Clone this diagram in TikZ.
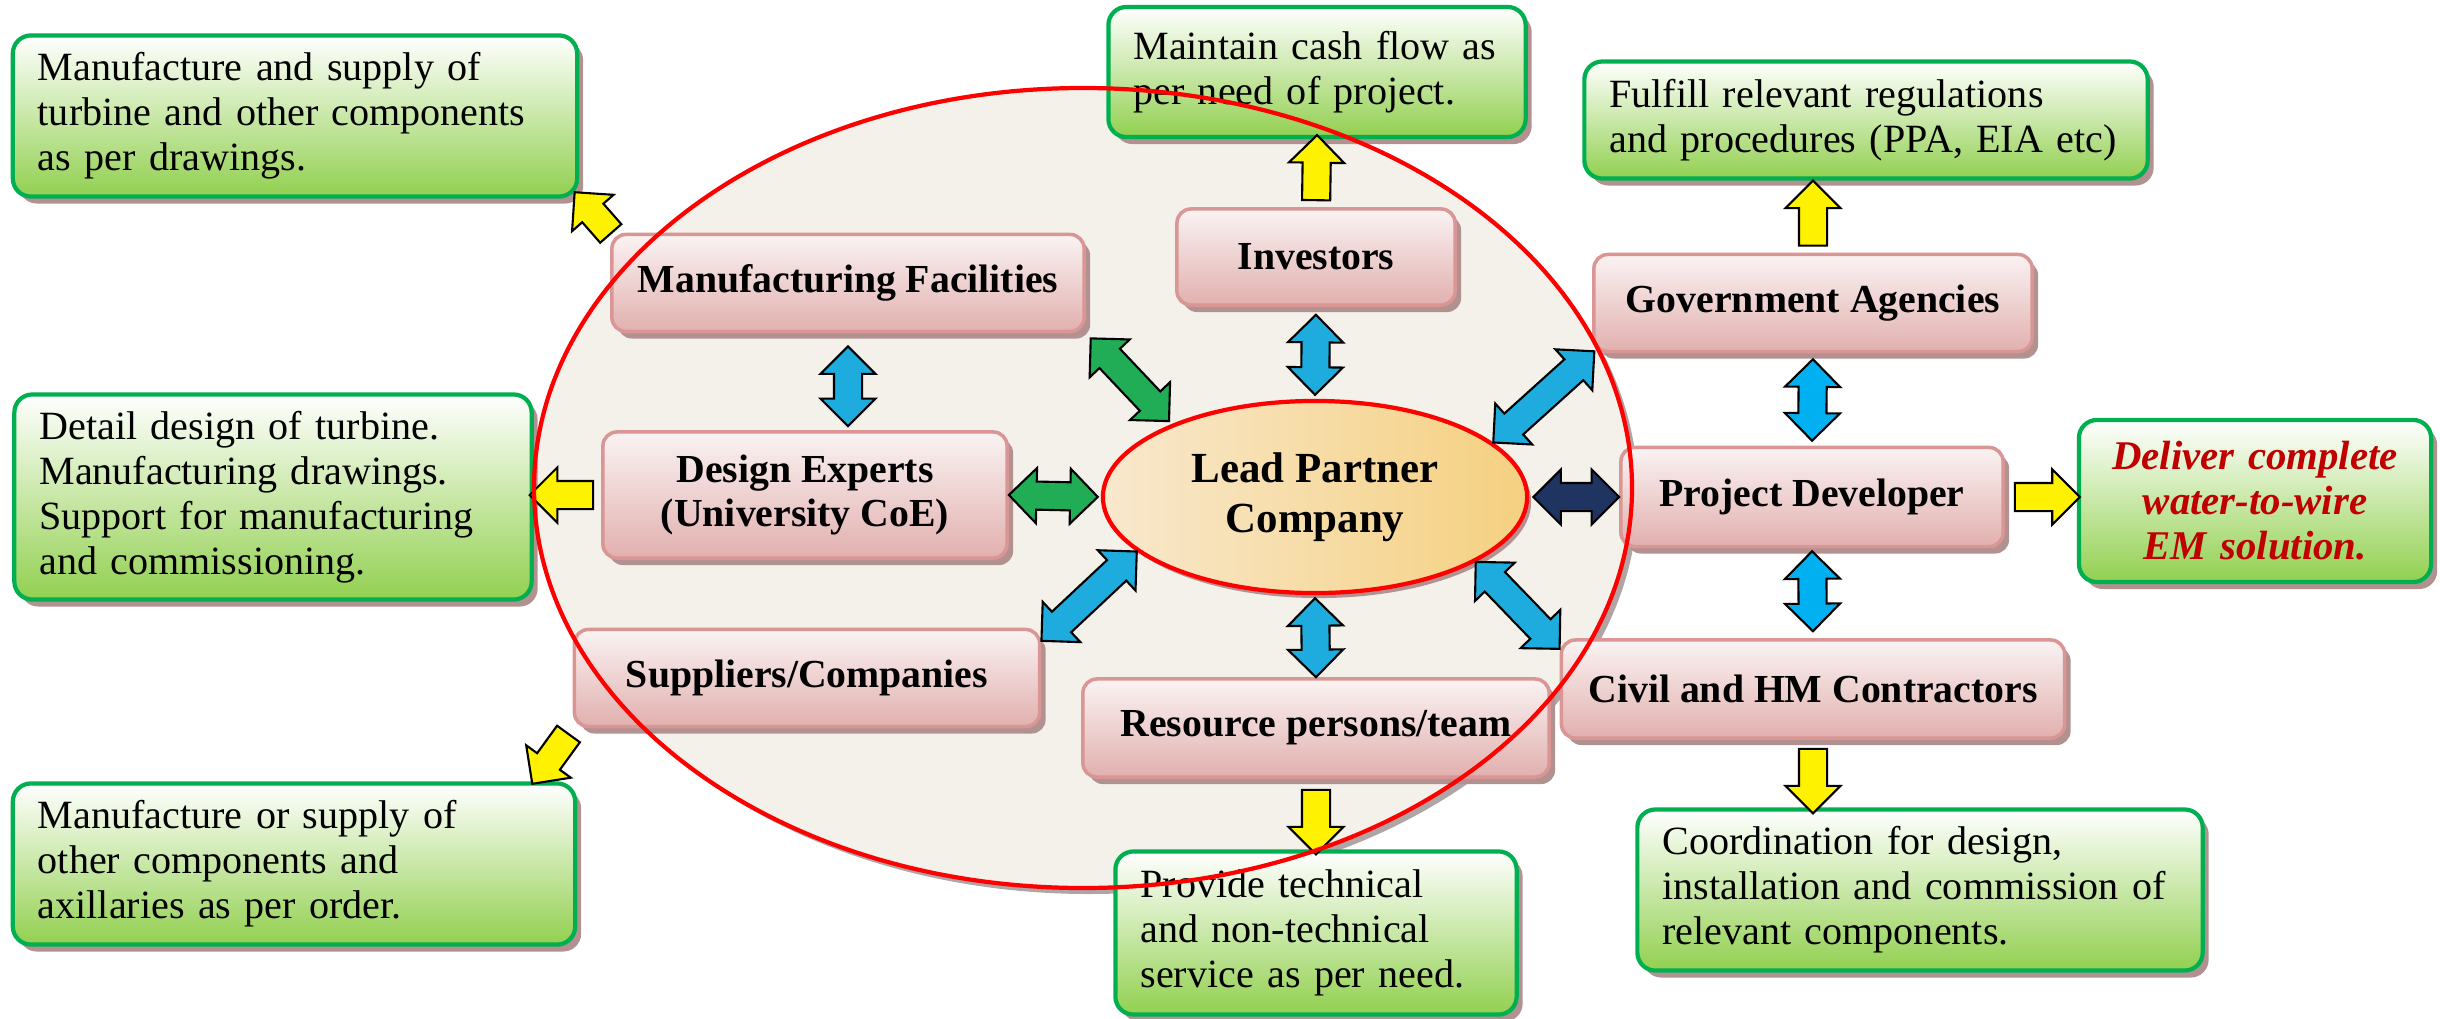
\documentclass[tikz,border=0pt]{standalone}
\usepackage{fontspec}
\setmainfont{Liberation Serif}
\usepackage{xcolor}
\usepackage{tikz}
\usetikzlibrary{positioning}
\usetikzlibrary{calc}
\usetikzlibrary{shapes.arrows}
\usetikzlibrary{shapes.geometric}
\usetikzlibrary{shadows}

\definecolor{pinkline}{RGB}{217,150,148}
\definecolor{pinktop}{RGB}{250,243,243}
\definecolor{pinkbot}{RGB}{225,176,174}
\definecolor{greenline}{RGB}{0,176,80}
\definecolor{greenbot}{RGB}{146,208,80}
\definecolor{shadowc}{RGB}{178,145,145}
\definecolor{ovalfill}{RGB}{244,240,234}
\definecolor{ovalshadow}{RGB}{175,165,165}
\definecolor{leadleft}{RGB}{248,232,205}
\definecolor{leadright}{RGB}{245,208,128}
\definecolor{arrblue}{RGB}{30,172,222}
\definecolor{arrcyan}{RGB}{0,176,240}
\definecolor{arrgreen}{RGB}{32,173,86}
\definecolor{arrnavy}{RGB}{31,52,97}
\definecolor{deliverred}{RGB}{192,0,0}

\tikzset{
  boxshadow/.style={drop shadow={shadow xshift=0.06cm, shadow yshift=-0.07cm, fill=shadowc, opacity=1}},
  actor/.style={draw=pinkline, line width=1pt, rounded corners=0.14cm,
    top color=pinktop, bottom color=pinkbot, boxshadow, inner sep=0pt,
    align=center, font=\fontsize{11.3}{12.4}\selectfont\bfseries},
  task/.style={draw=greenline, line width=1.2pt, rounded corners=0.18cm,
    top color=white, bottom color=greenbot, boxshadow, inner xsep=0.25cm,
    inner ysep=0pt, align=left, font=\fontsize{11.4}{12.8}\selectfont},
  leadpartner/.style={ellipse, draw=red, line width=1.2pt, left color=leadleft,
    right color=leadright, inner sep=0pt, align=center,
    font=\fontsize{12.2}{14.2}\selectfont\bfseries,
    drop shadow={shadow xshift=0.04cm, shadow yshift=-0.05cm, fill=shadowc, opacity=1}},
  twoway/.style={double arrow, draw=black, line width=0.6pt, inner xsep=0pt,
    inner ysep=0.13cm, minimum width=0pt, double arrow head extend=0.135cm},
  oneway/.style={single arrow, draw=black, fill=yellow, line width=0.6pt,
    inner xsep=0pt, inner ysep=0.13cm, minimum width=0pt,
    single arrow head extend=0.135cm, allow upside down},
}

\begin{document}
\begin{tikzpicture}[x=0.01cm, y=-0.01cm]
  \useasboundingbox (0,0) rectangle (2440,1018);

  % Consortium
  \fill[ovalshadow] (1089,494) ellipse [x radius=549, y radius=400];
  \fill[ovalfill] (1083,488) ellipse [x radius=549, y radius=400];

  % Partners
  \node[actor, minimum width=4.72cm, minimum height=0.97cm] (mfg) at (848,283) {Manufacturing Facilities};
  \node[actor, minimum width=2.78cm, minimum height=0.96cm] (invest) at (1316,257) {Investors};
  \node[actor, minimum width=4.38cm, minimum height=0.97cm] (gov) at (1813,303) {Government Agencies};
  \node[actor, minimum width=4.04cm, minimum height=1.26cm] (design) at (805,495) {Design Experts\\(University CoE)};
  \node[actor, minimum width=3.82cm, minimum height=0.99cm] (dev) at (1812,497) {Project Developer};
  \node[actor, minimum width=4.65cm, minimum height=0.97cm] (supply) at (807,678) {Suppliers/Companies};
  \node[actor, minimum width=4.66cm, minimum height=0.98cm] (team) at (1316,728) {Resource persons/team};
  \node[actor, minimum width=5.03cm, minimum height=0.98cm] (civil) at (1813,689) {Civil and HM Contractors};

  % Tasks
  \node[task, text width=5.14cm, minimum height=1.61cm] (out1) at (295,116)
    {Manufacture and supply of\\turbine and other components\\as per drawings.};
  \node[task, text width=3.67cm, minimum height=1.30cm] (out2) at (1317,72)
    {Maintain cash flow as\\per need of project.};
  \node[task, text width=5.13cm, minimum height=1.17cm] (out3) at (1866,120)
    {Fulfill relevant regulations\\and procedures (PPA, EIA etc)};
  \node[task, text width=4.67cm, minimum height=2.05cm] (out4) at (273,497)
    {Detail design of turbine.\\Manufacturing drawings.\\Support for manufacturing\\and commissioning.};
  \node[task, align=center, text width=3.02cm, minimum height=1.62cm, text=deliverred,
    font=\fontsize{11.6}{12.8}\selectfont\bfseries\itshape] (out5) at (2255,501)
    {Deliver complete\\water-to-wire\\EM solution.};
  \node[task, text width=5.12cm, minimum height=1.61cm] (out6) at (294,864)
    {Manufacture or supply of\\other components and\\axillaries as per order.};
  \node[task, text width=3.51cm, minimum height=1.63cm] (out7) at (1316,933)
    {Provide technical\\and non-technical\\service as per need.};
  \node[task, text width=5.15cm, minimum height=1.61cm] (out8) at (1920,890)
    {Coordination for design,\\installation and commission of\\relevant components.};

  % Lead partner
  \node[leadpartner, minimum width=4.24cm, minimum height=1.92cm] (lead) at (1315,497) {Lead Partner\\Company};

  % Two-way links
  \foreach \s/\e/\c/\ga/\gb in {
      mfg.south/design.north -| mfg.south/arrblue/.13cm/.04cm,
      invest.south/lead.north/arrblue/.08cm/.04cm,
      lead.south/team.north/arrblue/.03cm/0cm,
      gov.south/dev.north/arrcyan/.06cm/.05cm,
      dev.south/civil.north/arrcyan/.03cm/.07cm,
      design.east/lead.west/arrgreen/0cm/.03cm,
      lead.east/dev.west/arrnavy/.04cm/0cm,
      mfg.south east/lead.153/arrgreen/.07cm/.04cm,
      lead.17/gov.south west/arrblue/0cm/-.03cm,
      lead.197/supply.9/arrblue/0cm/0cm,
      lead.338/civil.171/arrblue/0cm/0cm
  } {
      \path let \p1=($(\s)!\ga!(\e)$), \p2=($(\e)!\gb!(\s)$), \n1={veclen(\x2-\x1,\y2-\y1)} in
          (\p1) -- (\p2) node[midway, sloped, twoway, fill=\c, minimum height=\n1] {};
  }

  % Task arrows
  \foreach \s/\e/\ga/\gb in {
      mfg.north west/out1.-16/-.08cm/0cm,
      invest.north/out2.south/0cm/.03cm,
      gov.north/out3.south -| gov.north/0cm/.07cm,
      design.west/out4.east |- design.west/.01cm/.03cm,
      dev.east/out5.west |- dev.east/.03cm/.04cm,
      supply.south west/out6.19/0cm/.04cm,
      team.south/out7.north/.04cm/.02cm,
      civil.south/out8.north -| civil.south/.02cm/.01cm
  } {
      \path let \p1=($(\s)!\ga!(\e)$), \p2=($(\e)!\gb!(\s)$), \n1={veclen(\x2-\x1,\y2-\y1)} in
          (\p1) -- (\p2) node[midway, sloped, oneway, minimum height=\n1] {};
  }

  % Consortium outline
  \draw[red, line width=1.2pt] (1083,488) ellipse [x radius=549, y radius=400];

\end{tikzpicture}
\end{document}
